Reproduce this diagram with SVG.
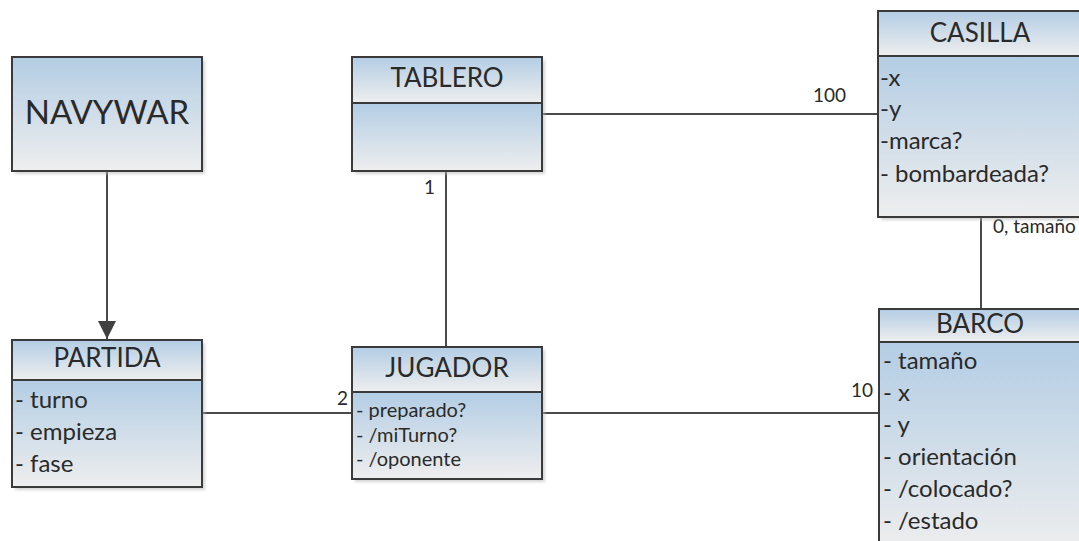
<svg xmlns="http://www.w3.org/2000/svg" width="1079" height="541" viewBox="0 0 1079 541">
<defs>
<linearGradient id="g" x1="0" y1="0" x2="0" y2="1">
<stop offset="0" stop-color="#b3cde4"/>
<stop offset="1" stop-color="#eeeeee"/>
</linearGradient>
<filter id="sh" x="-10%" y="-10%" width="120%" height="120%">
<feGaussianBlur stdDeviation="1.5"/>
</filter>
<marker id="arr" markerWidth="18" markerHeight="20" refX="18" refY="9" orient="auto" markerUnits="userSpaceOnUse">
<path d="M0,0 L18,9 L0,18 Z" fill="#404040"/>
</marker>
</defs>
<style>
.sh{fill:#b8b8b8;opacity:.6;filter:url(#sh)}
.c{fill:url(#g);stroke:#3a3a3a;stroke-width:2}
.t{font-family:Lato,"Open Sans","Liberation Sans",sans-serif;fill:#2a2a2a;text-anchor:middle}
.a{font-family:Lato,"Open Sans","Liberation Sans",sans-serif;fill:#2a2a2a}
.ttl{font-size:26px}
.att{font-size:24px}
.sm{font-size:20px}
.lb{font-family:Lato,"Open Sans","Liberation Sans",sans-serif;fill:#2a2a2a;font-size:19px}
.ln{stroke:#4a4a4a;stroke-width:2;fill:none}
</style>
<g id="connectors">
<line class="ln" x1="107" y1="171" x2="107" y2="339" marker-end="url(#arr)"/>
<line class="ln" x1="542" y1="114" x2="878" y2="114"/>
<line class="ln" x1="446" y1="171" x2="446" y2="347"/>
<line class="ln" x1="202" y1="413" x2="352" y2="413"/>
<line class="ln" x1="542" y1="413" x2="879" y2="413"/>
<line class="ln" x1="981" y1="217" x2="981" y2="309"/>
<text class="lb" x="813" y="102">100</text>
<text class="lb" x="435" y="194" text-anchor="end">1</text>
<text class="lb" x="348" y="405" text-anchor="end">2</text>
<text class="lb" x="873" y="397" text-anchor="end">10</text>
<text class="lb" x="993" y="233">0, tamaño</text>
</g>
<g id="navywar">
<rect class="sh" x="15" y="60" width="190" height="114"/>
<rect class="c" x="12" y="57" width="190" height="114"/>
<text class="t" x="107" y="124" font-size="33">NAVYWAR</text>
</g>
<g id="tablero">
<rect class="sh" x="355" y="60" width="190" height="114"/>
<rect class="c" x="352" y="57" width="190" height="46"/>
<rect class="c" x="352" y="103" width="190" height="68"/>
<text class="t ttl" x="447" y="87">TABLERO</text>
</g>
<g id="casilla">
<rect class="sh" x="881" y="14" width="204" height="206"/>
<rect class="c" x="878" y="11" width="204" height="45"/>
<rect class="c" x="878" y="56" width="204" height="161"/>
<text class="t ttl" x="980" y="42">CASILLA</text>
<text class="a att" x="880" y="86">-x</text>
<text class="a att" x="880" y="117">-y</text>
<text class="a att" x="880" y="149">-marca?</text>
<text class="a att" x="880" y="182">- bombardeada?</text>
</g>
<g id="partida">
<rect class="sh" x="15" y="343" width="190" height="147"/>
<rect class="c" x="12" y="340" width="190" height="40"/>
<rect class="c" x="12" y="380" width="190" height="107"/>
<text class="t ttl" x="107" y="367">PARTIDA</text>
<text class="a att" x="15" y="408">- turno</text>
<text class="a att" x="15" y="440">- empieza</text>
<text class="a att" x="15" y="472">- fase</text>
</g>
<g id="jugador">
<rect class="sh" x="355" y="350" width="190" height="132"/>
<rect class="c" x="352" y="347" width="190" height="45"/>
<rect class="c" x="352" y="392" width="190" height="87"/>
<text class="t ttl" x="447" y="377">JUGADOR</text>
<text class="a sm" x="356" y="417">- preparado?</text>
<text class="a sm" x="356" y="442">- /miTurno?</text>
<text class="a sm" x="356" y="466">- /oponente</text>
</g>
<g id="barco">
<rect class="sh" x="882" y="312" width="204" height="240"/>
<rect class="c" x="879" y="309" width="204" height="33"/>
<rect class="c" x="879" y="342" width="204" height="210"/>
<text class="t ttl" x="980" y="333">BARCO</text>
<text class="a att" x="883" y="369">- tamaño</text>
<text class="a att" x="883" y="401">- x</text>
<text class="a att" x="883" y="433">- y</text>
<text class="a att" x="883" y="465">- orientación</text>
<text class="a att" x="883" y="497">- /colocado?</text>
<text class="a att" x="883" y="529">- /estado</text>
</g>
</svg>
